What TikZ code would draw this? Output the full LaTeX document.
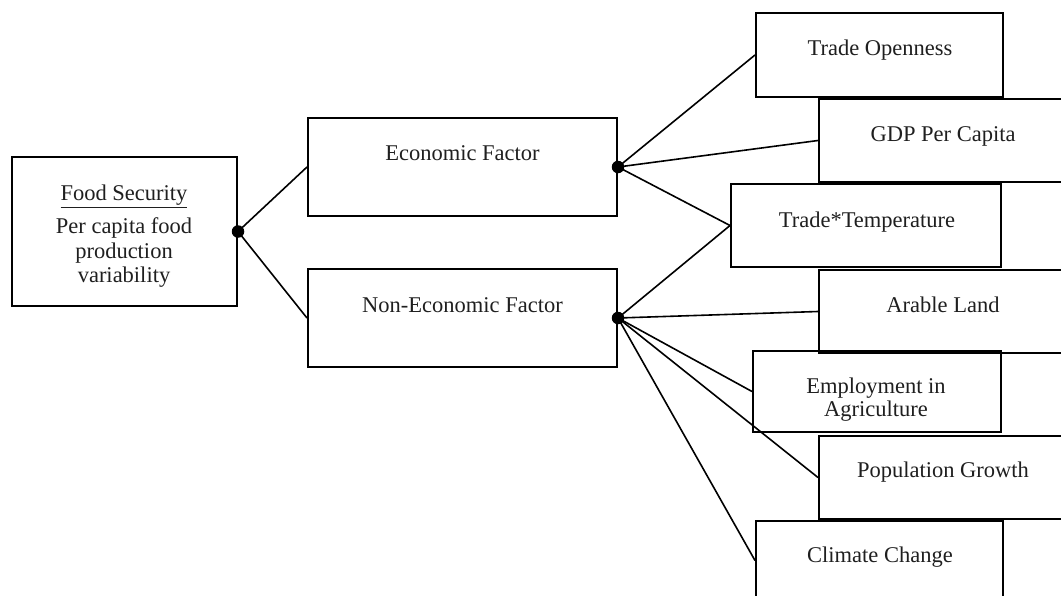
\documentclass[tikz,border=0pt]{standalone}
\usepackage{fontspec}
\setmainfont{Liberation Serif}
\begin{document}
\begin{tikzpicture}[x=1pt,y=-1pt,
  box/.style={draw, line width=2pt, rectangle, inner sep=0pt},
  lbl/.style={anchor=base, inner sep=0pt, text=black!88, font=\fontsize{22.5}{24}\selectfont},
  link/.style={line width=1.6pt},
  hub/.style={circle, fill=black, inner sep=0pt, minimum size=12.5pt}]
\useasboundingbox (0,0) rectangle (1061,595);
\clip (0,0) rectangle (1061,595);
% boxes
\node[box, minimum width=225pt, minimum height=149pt] (fs) at (124.5,231.5) {};
\node[box, minimum width=309pt, minimum height=98pt] (econ) at (462.5,167) {};
\node[box, minimum width=309pt, minimum height=98pt] (nonecon) at (462.5,318) {};
\node[box, minimum width=247pt, minimum height=84pt] (trop) at (879.5,55) {};
\node[box, minimum width=248pt, minimum height=83pt] (gdp) at (943,140.5) {};
\node[box, minimum width=270pt, minimum height=83pt] (ttemp) at (866,225.5) {};
\node[box, minimum width=248pt, minimum height=83pt] (arable) at (943,311.5) {};
\node[box, minimum width=248pt, minimum height=81pt] (emp) at (877,391.5) {};
\node[box, minimum width=248pt, minimum height=83pt] (pop) at (943,477.5) {};
\node[box, minimum width=247pt, minimum height=79pt] (clim) at (879.5,560.5) {};
% labels
\node[lbl] (t1) at (124,200.7) {\underline{Food Security}};
\node[lbl] (t2) at (124,233) {Per capita food};
\node[lbl] (t3) at (124,258) {production};
\node[lbl] (t4) at (124,282) {variability};
\node[lbl] (te) at (462.5,160.5) {Economic Factor};
\node[lbl] (tn) at (462.5,312) {Non-Economic Factor};
\node[lbl] (tt) at (880,55) {Trade Openness};
\node[lbl] (tg) at (943,141) {GDP Per Capita};
\node[lbl] (ttt) at (867,227) {Trade*Temperature};
\node[lbl] (ta) at (943,312) {Arable Land};
\node[lbl] (tem1) at (876,393) {Employment in};
\node[lbl] (tem2) at (876,416) {Agriculture};
\node[lbl] (tp) at (943,477) {Population Growth};
\node[lbl] (tc) at (880,562) {Climate Change};
% hubs
\node[hub] (h0) at (fs.east) {};
\node[hub] (h1) at (econ.east) {};
\node[hub] (h2) at (nonecon.east) {};
% connectors
\draw[link] (h0.center) -- (econ.west);
\draw[link] (h0.center) -- (nonecon.west);
\draw[link] (h1.center) -- (trop.west);
\draw[link] (h1.center) -- (gdp.west);
\draw[link] (h1.center) -- (ttemp.west);
\draw[link] (h2.center) -- (ttemp.west);
\draw[link] (h2.center) -- (arable.west);
\draw[link] (h2.center) -- (emp.west);
\draw[link] (h2.center) -- (pop.west);
\draw[link] (h2.center) -- (clim.west);
\end{tikzpicture}
\end{document}
